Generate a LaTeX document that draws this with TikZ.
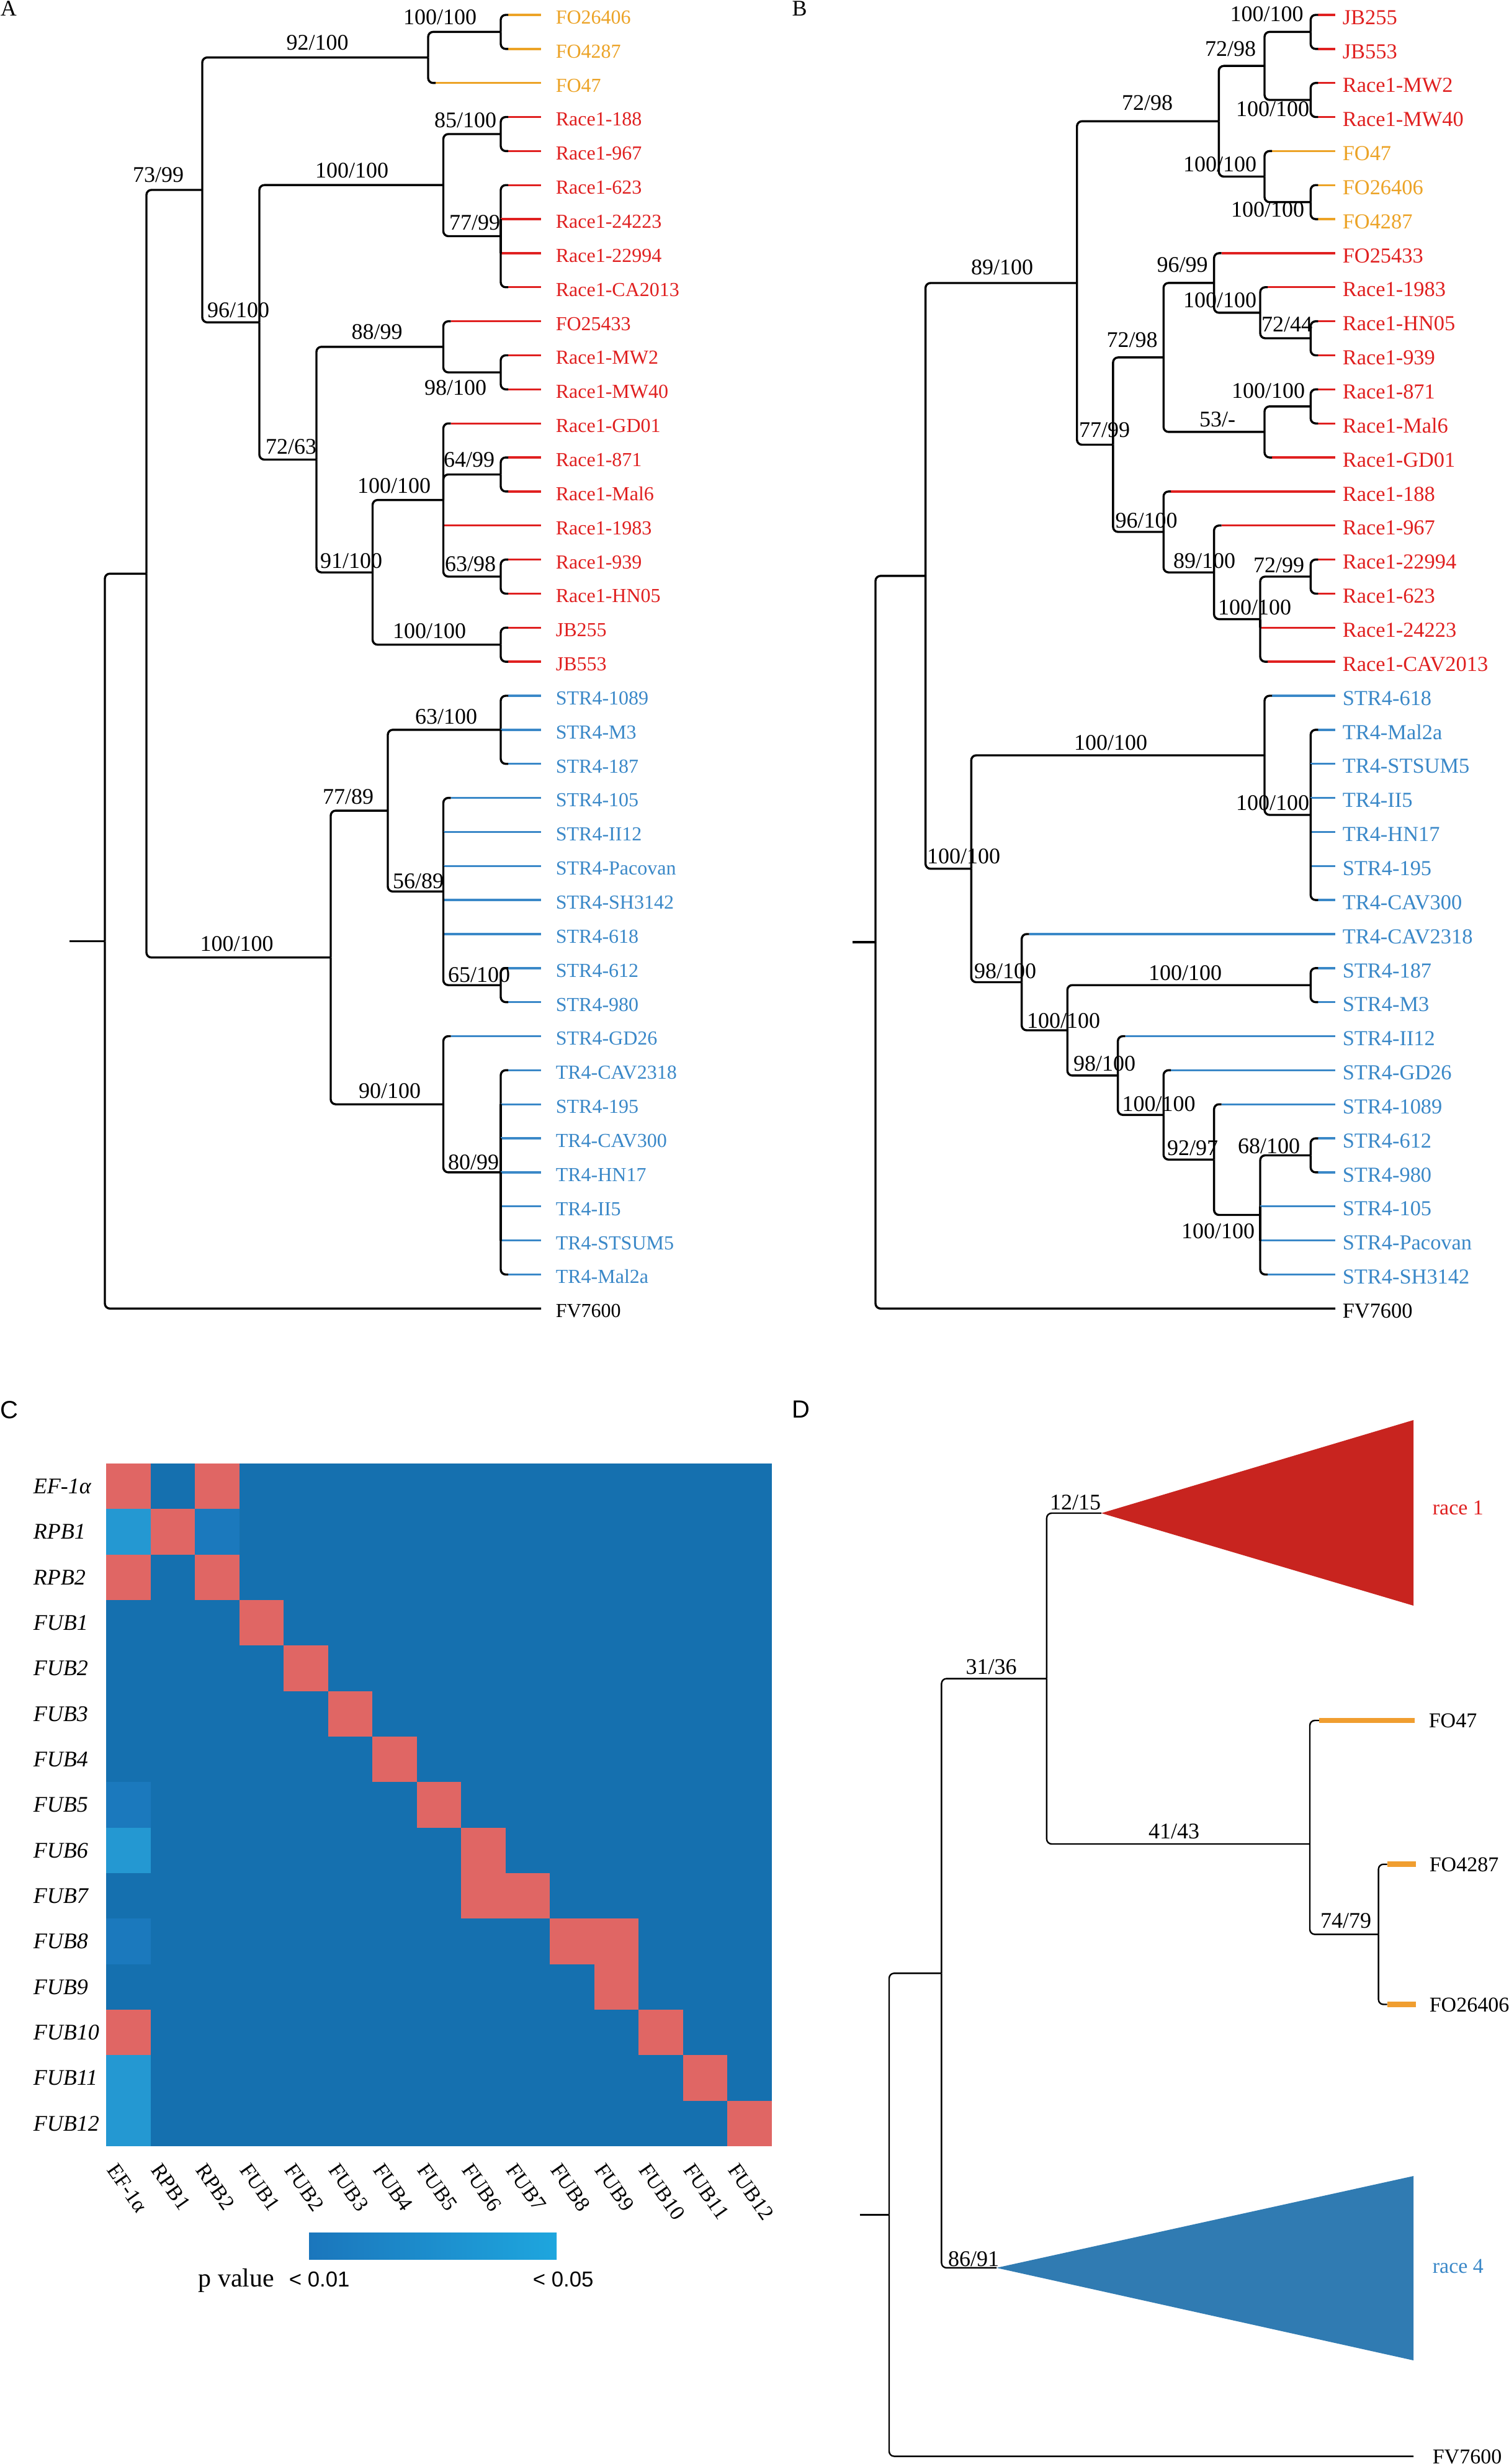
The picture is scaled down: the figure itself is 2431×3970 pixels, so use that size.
\documentclass[tikz,border=0pt]{standalone}
\usepackage{fontspec}
\setmainfont{Liberation Serif}
\newfontfamily\sansf{Liberation Sans}
\usetikzlibrary{calc}
\definecolor{cOr}{RGB}{236,163,38}
\definecolor{cRe}{RGB}{224,32,32}
\definecolor{cBl}{RGB}{58,136,200}
\definecolor{hDark}{RGB}{21,112,175}
\definecolor{hMid}{RGB}{27,121,189}
\definecolor{hLight}{RGB}{36,152,210}
\definecolor{hRed}{RGB}{224,102,100}
\definecolor{dRed}{RGB}{200,36,31}
\definecolor{dBlue}{RGB}{48,123,178}
\definecolor{dOr}{RGB}{240,158,48}
\definecolor{barL}{RGB}{27,118,188}
\definecolor{barR}{RGB}{30,166,222}
\tikzset{
  x=0.25pt, y=-0.25pt,
  lw/.style={line width=0.85pt},
  br/.style={line width=0.85pt, rounded corners=2pt, draw=black},
  dl/.style={line width=0.6pt, rounded corners=2pt, draw=black},
  tx/.style={font=\fontsize{9}{10}\selectfont, inner sep=0pt},
  leafA/.style={inner sep=0pt, font=\fontsize{8}{9}\selectfont, anchor=west, inner xsep=5.75pt, inner ysep=0pt, text height=7.2pt, text depth=0pt},
  leafB/.style={inner sep=0pt, font=\fontsize{8.6}{9}\selectfont, anchor=west, inner xsep=2.75pt, inner ysep=0pt, text height=7.6pt, text depth=0pt},
  leafD/.style={inner sep=0pt, font=\fontsize{8.5}{9}\selectfont, anchor=west, inner ysep=0pt, text height=5.9pt, text depth=0pt},
  sup/.style={tx, anchor=base},
  rowl/.style={tx, anchor=west, font=\fontsize{9}{10}\selectfont\itshape},
  coll/.style={inner sep=0pt, font=\fontsize{8.6}{9}\selectfont, anchor=north west, rotate=-55},
  panel/.style={inner sep=0pt, font=\fontsize{9}{10}\selectfont},
  panelS/.style={inner sep=0pt, font=\sansf\fontsize{10}{12}\selectfont},
}
\newcommand\ry[1]{24+54.85*#1}
\newcommand\mkA[4]{\node[leafA,text=#4] (#1) at (872,{\ry{#2}}) {#3};}
\newcommand\mkB[4]{\node[leafB,text=#4] (#1) at (2152,{\ry{#2}}) {#3};}
\newcommand\eO[3]{\draw[lw,#3] ($(#1 |- #2.west)+(12,0)$) -- (#2.west); \draw[br] (#1) |- ($(#1 |- #2.west)+(12,0)$);}
\newcommand\eM[3]{\draw[lw,#3] (#1 |- #2.west) -- (#2.west); \draw[br] (#1) -- (#1 |- #2.west);}
\newcommand\eI[2]{\draw[br] (#1) |- (#2);}
\newcommand\supL[4]{\node[sup] (#1) at (#2,{#3+12}) {#4};}
\newcommand\hcell[3]{\fill[#3] ({171.4+71.48*#1},{2358+73.33*#2}) rectangle ++(71.48,73.33);}

\begin{document}
\begin{tikzpicture}
\useasboundingbox (0,0) rectangle (2431,3970);
\fill[white] (0,0) rectangle (2431,3970);
\clip (0,0) rectangle (2431,3970);

% ================= Panel A =================
\node[panel] (labA) at (14,14) {A};
\mkA{a0}{0}{FO26406}{cOr}
\mkA{a1}{1}{FO4287}{cOr}
\mkA{a2}{2}{FO47}{cOr}
\mkA{a3}{3}{Race1-188}{cRe}
\mkA{a4}{4}{Race1-967}{cRe}
\mkA{a5}{5}{Race1-623}{cRe}
\mkA{a6}{6}{Race1-24223}{cRe}
\mkA{a7}{7}{Race1-22994}{cRe}
\mkA{a8}{8}{Race1-CA2013}{cRe}
\mkA{a9}{9}{FO25433}{cRe}
\mkA{a10}{10}{Race1-MW2}{cRe}
\mkA{a11}{11}{Race1-MW40}{cRe}
\mkA{a12}{12}{Race1-GD01}{cRe}
\mkA{a13}{13}{Race1-871}{cRe}
\mkA{a14}{14}{Race1-Mal6}{cRe}
\mkA{a15}{15}{Race1-1983}{cRe}
\mkA{a16}{16}{Race1-939}{cRe}
\mkA{a17}{17}{Race1-HN05}{cRe}
\mkA{a18}{18}{JB255}{cRe}
\mkA{a19}{19}{JB553}{cRe}
\mkA{a20}{20}{STR4-1089}{cBl}
\mkA{a21}{21}{STR4-M3}{cBl}
\mkA{a22}{22}{STR4-187}{cBl}
\mkA{a23}{23}{STR4-105}{cBl}
\mkA{a24}{24}{STR4-II12}{cBl}
\mkA{a25}{25}{STR4-Pacovan}{cBl}
\mkA{a26}{26}{STR4-SH3142}{cBl}
\mkA{a27}{27}{STR4-618}{cBl}
\mkA{a28}{28}{STR4-612}{cBl}
\mkA{a29}{29}{STR4-980}{cBl}
\mkA{a30}{30}{STR4-GD26}{cBl}
\mkA{a31}{31}{TR4-CAV2318}{cBl}
\mkA{a32}{32}{STR4-195}{cBl}
\mkA{a33}{33}{TR4-CAV300}{cBl}
\mkA{a34}{34}{TR4-HN17}{cBl}
\mkA{a35}{35}{TR4-II5}{cBl}
\mkA{a36}{36}{TR4-STSUM5}{cBl}
\mkA{a37}{37}{TR4-Mal2a}{cBl}
\mkA{a38}{38}{FV7600}{black}

\coordinate (A_fo) at (807,51.4);
\coordinate (A_92) at (690,92.6);
\coordinate (A_85) at (807,216);
\coordinate (A_77) at (807,380.5);
\coordinate (A_r1) at (714.5,298.2);
\coordinate (A_98) at (807,600);
\coordinate (A_88) at (714.5,558.8);
\coordinate (A_64) at (807,764.5);
\coordinate (A_63) at (807,929);
\coordinate (A_100b) at (714.5,805.6);
\coordinate (A_jb) at (807,1038.7);
\coordinate (A_91) at (600.5,922.2);
\coordinate (A_72) at (510,740.5);
\coordinate (A_96) at (418,519.4);
\coordinate (A_73) at (326,306);
\coordinate (A_63b) at (807,1175.85);
\coordinate (A_65) at (807,1587.2);
\coordinate (A_56) at (714.5,1436.4);
\coordinate (A_77b) at (625,1306.1);
\coordinate (A_80) at (807,1888.9);
\coordinate (A_90) at (714.5,1779.2);
\coordinate (A_100c) at (533,1542.7);
\coordinate (A_n) at (236,924.3);
\coordinate (A_root) at (169,1516.3);
\coordinate (A_stub) at (112,1516.3);

\eO{A_fo}{a0}{cOr} \eO{A_fo}{a1}{cOr}
\eI{A_92}{A_fo} \eO{A_92}{a2}{cOr}
\eO{A_85}{a3}{cRe} \eO{A_85}{a4}{cRe}
\eO{A_77}{a5}{cRe} \eM{A_77}{a6}{cRe} \eM{A_77}{a7}{cRe} \eO{A_77}{a8}{cRe}
\eI{A_r1}{A_85} \eI{A_r1}{A_77}
\eO{A_98}{a10}{cRe} \eO{A_98}{a11}{cRe}
\eO{A_88}{a9}{cRe} \eI{A_88}{A_98}
\eO{A_64}{a13}{cRe} \eO{A_64}{a14}{cRe}
\eO{A_63}{a16}{cRe} \eO{A_63}{a17}{cRe}
\eO{A_100b}{a12}{cRe} \eI{A_100b}{A_64} \eM{A_100b}{a15}{cRe} \eI{A_100b}{A_63}
\eO{A_jb}{a18}{cRe} \eO{A_jb}{a19}{cRe}
\eI{A_91}{A_100b} \eI{A_91}{A_jb}
\eI{A_72}{A_88} \eI{A_72}{A_91}
\eI{A_96}{A_r1} \eI{A_96}{A_72}
\eI{A_73}{A_92} \eI{A_73}{A_96}
\eO{A_63b}{a20}{cBl} \eM{A_63b}{a21}{cBl} \eO{A_63b}{a22}{cBl}
\eO{A_65}{a28}{cBl} \eO{A_65}{a29}{cBl}
\eO{A_56}{a23}{cBl} \eM{A_56}{a24}{cBl} \eM{A_56}{a25}{cBl} \eM{A_56}{a26}{cBl} \eM{A_56}{a27}{cBl} \eI{A_56}{A_65}
\eI{A_77b}{A_63b} \eI{A_77b}{A_56}
\eO{A_80}{a31}{cBl} \eM{A_80}{a32}{cBl} \eM{A_80}{a33}{cBl} \eM{A_80}{a34}{cBl} \eM{A_80}{a35}{cBl} \eM{A_80}{a36}{cBl} \eO{A_80}{a37}{cBl}
\eO{A_90}{a30}{cBl} \eI{A_90}{A_80}
\eI{A_100c}{A_77b} \eI{A_100c}{A_90}
\eI{A_n}{A_73} \eI{A_n}{A_100c}
\eI{A_root}{A_n} \draw[br] (A_root) |- (a38.west);
\draw[br] (A_stub) -- (A_root);

\supL{sa1}{709}{28}{100/100}
\supL{sa2}{511.5}{69}{92/100}
\supL{sa3}{255}{282}{73/99}
\supL{sa4}{750}{194}{85/100}
\supL{sa5}{567}{275}{100/100}
\supL{sa6}{765}{359}{77/99}
\supL{sa7}{384}{500}{96/100}
\supL{sa8}{607.5}{534.5}{88/99}
\supL{sa9}{734}{624}{98/100}
\supL{sa10}{469}{719}{72/63}
\supL{sa11}{756}{740}{64/99}
\supL{sa12}{635}{782}{100/100}
\supL{sa13}{566}{903.5}{91/100}
\supL{sa14}{758}{908.5}{63/98}
\supL{sa15}{692}{1016}{100/100}
\supL{sa16}{719}{1154}{63/100}
\supL{sa17}{561}{1283}{77/89}
\supL{sa18}{674}{1419.7}{56/89}
\supL{sa19}{381.6}{1520}{100/100}
\supL{sa20}{772}{1570.5}{65/100}
\supL{sa21}{628}{1757}{90/100}
\supL{sa22}{763}{1872}{80/99}

% ================= Panel B =================
\node[panel] (labB) at (1288.6,14) {B};
\mkB{b0}{0}{JB255}{cRe}
\mkB{b1}{1}{JB553}{cRe}
\mkB{b2}{2}{Race1-MW2}{cRe}
\mkB{b3}{3}{Race1-MW40}{cRe}
\mkB{b4}{4}{FO47}{cOr}
\mkB{b5}{5}{FO26406}{cOr}
\mkB{b6}{6}{FO4287}{cOr}
\mkB{b7}{7}{FO25433}{cRe}
\mkB{b8}{8}{Race1-1983}{cRe}
\mkB{b9}{9}{Race1-HN05}{cRe}
\mkB{b10}{10}{Race1-939}{cRe}
\mkB{b11}{11}{Race1-871}{cRe}
\mkB{b12}{12}{Race1-Mal6}{cRe}
\mkB{b13}{13}{Race1-GD01}{cRe}
\mkB{b14}{14}{Race1-188}{cRe}
\mkB{b15}{15}{Race1-967}{cRe}
\mkB{b16}{16}{Race1-22994}{cRe}
\mkB{b17}{17}{Race1-623}{cRe}
\mkB{b18}{18}{Race1-24223}{cRe}
\mkB{b19}{19}{Race1-CAV2013}{cRe}
\mkB{b20}{20}{STR4-618}{cBl}
\mkB{b21}{21}{TR4-Mal2a}{cBl}
\mkB{b22}{22}{TR4-STSUM5}{cBl}
\mkB{b23}{23}{TR4-II5}{cBl}
\mkB{b24}{24}{TR4-HN17}{cBl}
\mkB{b25}{25}{STR4-195}{cBl}
\mkB{b26}{26}{TR4-CAV300}{cBl}
\mkB{b27}{27}{TR4-CAV2318}{cBl}
\mkB{b28}{28}{STR4-187}{cBl}
\mkB{b29}{29}{STR4-M3}{cBl}
\mkB{b30}{30}{STR4-II12}{cBl}
\mkB{b31}{31}{STR4-GD26}{cBl}
\mkB{b32}{32}{STR4-1089}{cBl}
\mkB{b33}{33}{STR4-612}{cBl}
\mkB{b34}{34}{STR4-980}{cBl}
\mkB{b35}{35}{STR4-105}{cBl}
\mkB{b36}{36}{STR4-Pacovan}{cBl}
\mkB{b37}{37}{STR4-SH3142}{cBl}
\mkB{b38}{38}{FV7600}{black}

\coordinate (B_jb) at (2112.3,51.4);
\coordinate (B_mw) at (2112.3,161);
\coordinate (B_7298a) at (2038,106.2);
\coordinate (B_fo2) at (2112.3,325.7);
\coordinate (B_fo) at (2038,284.5);
\coordinate (B_7298b) at (1964.3,195.4);
\coordinate (B_7244) at (2112.3,545);
\coordinate (B_1983) at (2031,503.9);
\coordinate (B_9699) at (1956.6,455.9);
\coordinate (B_871) at (2112.3,654.8);
\coordinate (B_53) at (2038,695.9);
\coordinate (B_7298c) at (1875.2,575.9);
\coordinate (B_7299) at (2112.3,929);
\coordinate (B_100r) at (2031,997.6);
\coordinate (B_89) at (1956.6,922.2);
\coordinate (B_96) at (1875.2,857);
\coordinate (B_77) at (1793.9,716.5);
\coordinate (B_89t) at (1735.7,456);
\coordinate (B_tr4in) at (2112.3,1313);
\coordinate (B_tr4) at (2038,1217);
\coordinate (B_187) at (2112.3,1587.2);
\coordinate (B_68) at (2112.3,1861.5);
\coordinate (B_100s) at (2031,1957.5);
\coordinate (B_9297) at (1956.6,1868.3);
\coordinate (B_100g) at (1875.2,1796.3);
\coordinate (B_98b) at (1801.6,1732.9);
\coordinate (B_100m) at (1720.2,1660);
\coordinate (B_98a) at (1646.6,1582.5);
\coordinate (B_100L) at (1565.3,1399.7);
\coordinate (B_n) at (1491.6,927.9);
\coordinate (B_root) at (1411,1518.1);
\coordinate (B_stub) at (1374,1518.1);

\eO{B_jb}{b0}{cRe} \eO{B_jb}{b1}{cRe}
\eO{B_mw}{b2}{cRe} \eO{B_mw}{b3}{cRe}
\eI{B_7298a}{B_jb} \eI{B_7298a}{B_mw}
\eO{B_fo2}{b5}{cOr} \eO{B_fo2}{b6}{cOr}
\eO{B_fo}{b4}{cOr} \eI{B_fo}{B_fo2}
\eI{B_7298b}{B_7298a} \eI{B_7298b}{B_fo}
\eO{B_7244}{b9}{cRe} \eO{B_7244}{b10}{cRe}
\eO{B_1983}{b8}{cRe} \eI{B_1983}{B_7244}
\eO{B_9699}{b7}{cRe} \eI{B_9699}{B_1983}
\eO{B_871}{b11}{cRe} \eO{B_871}{b12}{cRe}
\eI{B_53}{B_871} \eO{B_53}{b13}{cRe}
\eI{B_7298c}{B_9699} \eI{B_7298c}{B_53}
\eO{B_7299}{b16}{cRe} \eO{B_7299}{b17}{cRe}
\eI{B_100r}{B_7299} \eM{B_100r}{b18}{cRe} \eO{B_100r}{b19}{cRe}
\eO{B_89}{b15}{cRe} \eI{B_89}{B_100r}
\eO{B_96}{b14}{cRe} \eI{B_96}{B_89}
\eI{B_77}{B_7298c} \eI{B_77}{B_96}
\eI{B_89t}{B_7298b} \eI{B_89t}{B_77}
\eO{B_tr4in}{b21}{cBl} \eM{B_tr4in}{b22}{cBl} \eM{B_tr4in}{b23}{cBl} \eM{B_tr4in}{b24}{cBl} \eM{B_tr4in}{b25}{cBl} \eO{B_tr4in}{b26}{cBl}
\eO{B_tr4}{b20}{cBl} \eI{B_tr4}{B_tr4in}
\eO{B_187}{b28}{cBl} \eO{B_187}{b29}{cBl}
\eO{B_68}{b33}{cBl} \eO{B_68}{b34}{cBl}
\eI{B_100s}{B_68} \eM{B_100s}{b35}{cBl} \eM{B_100s}{b36}{cBl} \eO{B_100s}{b37}{cBl}
\eO{B_9297}{b32}{cBl} \eI{B_9297}{B_100s}
\eO{B_100g}{b31}{cBl} \eI{B_100g}{B_9297}
\eO{B_98b}{b30}{cBl} \eI{B_98b}{B_100g}
\eI{B_100m}{B_187} \eI{B_100m}{B_98b}
\eO{B_98a}{b27}{cBl} \eI{B_98a}{B_100m}
\eI{B_100L}{B_tr4} \eI{B_100L}{B_98a}
\eI{B_n}{B_89t} \eI{B_n}{B_100L}
\eI{B_root}{B_n} \draw[br] (B_root) |- (b38.west);
\draw[br] (B_stub) -- (B_root);

\supL{sb1}{2041.5}{23}{100/100}
\supL{sb2}{1983}{78.6}{72/98}
\supL{sb3}{1849}{166}{72/98}
\supL{sb4}{2051}{175.4}{100/100}
\supL{sb5}{1966}{265}{100/100}
\supL{sb6}{2043}{338}{100/100}
\supL{sb7}{1615}{430}{89/100}
\supL{sb8}{1905.6}{426.5}{96/99}
\supL{sb9}{1966}{484}{100/100}
\supL{sb10}{2074}{522.6}{72/44}
\supL{sb11}{1824.5}{547}{72/98}
\supL{sb12}{2044}{630}{100/100}
\supL{sb13}{1962}{675}{53/-}
\supL{sb14}{1780}{692}{77/99}
\supL{sb15}{1847.5}{838}{96/100}
\supL{sb16}{1941}{903.5}{89/100}
\supL{sb17}{2061}{910.6}{72/99}
\supL{sb18}{2022}{978.6}{100/100}
\supL{sb19}{1790}{1196}{100/100}
\supL{sb20}{2051}{1293.4}{100/100}
\supL{sb21}{1553}{1379.7}{100/100}
\supL{sb22}{1620}{1564}{98/100}
\supL{sb23}{1910}{1567.7}{100/100}
\supL{sb24}{1714}{1644}{100/100}
\supL{sb25}{1780}{1713.6}{98/100}
\supL{sb26}{1867.6}{1778}{100/100}
\supL{sb27}{1922}{1849.7}{92/97}
\supL{sb28}{2045}{1846}{68/100}
\supL{sb29}{1963}{1983}{100/100}

% ================= Panel C =================
\node[panelS] (labC) at (15,2272) {C};
\fill[hDark] (171.4,2358) rectangle (1243.6,3458);
\hcell{0}{0}{hRed} \hcell{2}{0}{hRed}
\hcell{0}{1}{hLight} \hcell{1}{1}{hRed} \hcell{2}{1}{hMid}
\hcell{0}{2}{hRed} \hcell{2}{2}{hRed}
\hcell{3}{3}{hRed}
\hcell{4}{4}{hRed}
\hcell{5}{5}{hRed}
\hcell{6}{6}{hRed}
\hcell{0}{7}{hMid} \hcell{7}{7}{hRed}
\hcell{0}{8}{hLight} \hcell{8}{8}{hRed}
\hcell{8}{9}{hRed} \hcell{9}{9}{hRed}
\hcell{0}{10}{hMid} \hcell{10}{10}{hRed} \hcell{11}{10}{hRed}
\hcell{11}{11}{hRed}
\hcell{0}{12}{hRed} \hcell{12}{12}{hRed}
\hcell{0}{13}{hLight} \hcell{13}{13}{hRed}
\hcell{0}{14}{hLight} \hcell{14}{14}{hRed}
\foreach \t [count=\i from 0] in {EF-1α,RPB1,RPB2,FUB1,FUB2,FUB3,FUB4,FUB5,FUB6,FUB7,FUB8,FUB9,FUB10,FUB11,FUB12}{
  \node[rowl] (rl\i) at (53,{2358+73.33*(\i+0.5)}) {\t};
  \node[coll] (cl\i) at ({171.4+71.48*(\i+0.5)-17},3482) {\t};
}
\shade[left color=barL, right color=barR] (498,3597) rectangle (897,3640);
\node[tx, anchor=base west, font=\fontsize{10.5}{12}\selectfont] (pv) at (319,3684) {p value};
\node[tx, anchor=base west, font=\sansf\fontsize{8.7}{10}\selectfont] (p1) at (465,3684) {< 0.01};
\node[tx, anchor=base west, font=\sansf\fontsize{8.7}{10}\selectfont] (p5) at (858,3684) {< 0.05};

% ================= Panel D =================
\node[panelS] (labD) at (1291,2271) {D};
\node[leafD, inner xsep=5.5pt] (d47) at (2280,2772) {FO47};
\node[leafD, inner xsep=5.25pt] (d4287) at (2282,3003.7) {FO4287};
\node[leafD, inner xsep=5.25pt] (d26406) at (2282,3229.5) {FO26406};
\node[leafD, inner xsep=7.5pt] (dfv) at (2278,3957.5) {FV7600};
\node[leafD, text=cRe] (dr1) at (2308,2429) {race 1};
\node[leafD, text=cBl] (dr4) at (2308,3650.5) {race 4};
\coordinate (D_stub) at (1385.6,3568.5);
\coordinate (D_root) at (1433,3568.5);
\coordinate (D_n) at (1517.4,3179.3);
\coordinate (D_31) at (1686.9,2704.6);
\coordinate (D_t1) at (1775,2438);
\coordinate (D_41) at (2111,2971);
\coordinate (D_74) at (2221.6,3116.6);
\coordinate (D_t4) at (1606,3653.9);
\fill[dRed] (D_t1) -- (2278,2288) -- (2278,2587) -- cycle;
\fill[dBlue] (D_t4) -- (2278,3506) -- (2278,3803) -- cycle;
\draw[dl] (D_stub) -- (D_root);
\draw[dl] (D_root) |- (D_n);
\draw[dl] (D_root) |- (dfv.west);
\draw[dl] (D_n) |- (D_31);
\draw[dl] (D_n) |- (D_t4);
\draw[dl] (D_31) |- (D_t1);
\draw[dl] (D_31) |- (D_41);
\draw[dl] (D_41) |- ($(D_41 |- d47.west)+(15,0)$);
\draw[dOr, line width=2.2pt] ($(D_41 |- d47.west)+(15,0)$) -- (d47.west);
\draw[dl] (D_41) |- (D_74);
\draw[dl] (D_74) |- ($(D_74 |- d4287.west)+(14,0)$);
\draw[dOr, line width=2.2pt] ($(D_74 |- d4287.west)+(14,0)$) -- (d4287.west);
\draw[dl] (D_74) |- ($(D_74 |- d26406.west)+(14,0)$);
\draw[dOr, line width=2.2pt] ($(D_74 |- d26406.west)+(14,0)$) -- (d26406.west);
\supL{sd1}{1733}{2420}{12/15}
\supL{sd2}{1597.6}{2685.4}{31/36}
\supL{sd3}{1892}{2950.7}{41/43}
\supL{sd4}{2169}{3094}{74/79}
\supL{sd5}{1569}{3639}{86/91}
\end{tikzpicture}
\end{document}
